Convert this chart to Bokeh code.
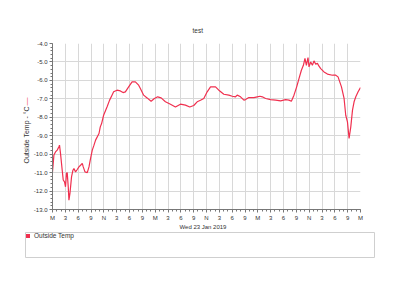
from bokeh.plotting import figure
from bokeh.models import (Range1d, FixedTicker, Legend, LegendItem, Title,
                          NumeralTickFormatter)
from bokeh.layouts import column
from bokeh.embed import file_html
from bokeh.resources import INLINE

# ---- data (hours since Tue 22 Jan 2019 00:00) ----
hours = [0, 0.33, 0.70, 1.10, 1.50, 1.64, 1.87, 2.27, 2.51, 2.81,
         3.04, 3.28, 3.44, 3.68, 3.84, 4.08, 4.45, 4.78, 5.01, 5.39,
         5.79, 6.18, 6.56, 6.96, 7.19, 7.59, 8.13, 8.53, 8.90, 9.30,
         9.70, 10.07, 10.87, 11.17, 11.48, 11.95, 12.74, 13.35, 13.91, 14.29,
         15.08, 15.86, 16.49, 17.03, 17.80, 18.60, 19.37, 20.14, 20.54, 21.31,
         22.11, 23.05, 23.82, 24.59, 25.39, 26.40, 27.57, 28.74, 29.91, 31.08,
         32.09, 33.02, 33.82, 34.59, 35.37, 36.16, 36.94, 38.11, 38.88, 40.05,
         41.22, 42.02, 42.79, 43.19, 43.96, 44.74, 45.13, 45.91, 47.08, 47.87,
         48.48, 49.05, 49.82, 50.99, 52.16, 53.33, 54.50, 55.28, 55.84, 56.45,
         57.08, 57.62, 58.18, 58.65, 59.02, 59.35, 59.73, 59.96, 60.36, 60.76,
         61.13, 61.53, 61.93, 62.30, 62.70, 63.47, 64.27, 65.44, 66.21, 66.75,
         67.55, 68.16, 68.55, 68.95, 69.33, 69.73, 70.13, 70.50, 70.90, 71.44, 72.0]

outside_temp = [-10.96, -10.05, -9.88, -9.78, -9.60, -9.51, -9.96, -10.87, -11.40, -11.50,
                -11.77, -11.03, -11.00, -11.77, -12.50, -12.13, -11.23, -10.87, -10.78, -10.96,
                -10.83, -10.69, -10.60, -10.50, -10.69, -10.96, -11.00, -10.69, -10.23, -9.78,
                -9.51, -9.24, -8.88, -8.52, -8.34, -7.89, -7.44, -7.07, -6.80, -6.62,
                -6.53, -6.57, -6.66, -6.62, -6.35, -6.08, -6.08, -6.26, -6.44, -6.80,
                -6.95, -7.13, -6.98, -6.89, -6.95, -7.16, -7.29, -7.44, -7.29, -7.34,
                -7.44, -7.36, -7.16, -7.08, -6.98, -6.62, -6.35, -6.35, -6.53, -6.75,
                -6.80, -6.86, -6.89, -6.80, -6.89, -7.07, -7.04, -6.93, -6.93, -6.89,
                -6.86, -6.89, -6.98, -7.04, -7.07, -7.11, -7.04, -7.07, -7.13, -6.80,
                -6.35, -5.90, -5.45, -5.18, -4.81, -5.18, -4.76, -5.27, -5.00, -5.18,
                -4.94, -5.12, -5.08, -5.23, -5.36, -5.54, -5.66, -5.72, -5.72, -5.81,
                -6.35, -6.98, -7.89, -8.25, -9.15, -8.52, -7.61, -7.16, -6.89, -6.62, -6.39]

x_tick_values = list(range(0, 73, 3))
x_tick_labels = ["M", "3", "6", "9", "N", "3", "6", "9",
                 "M", "3", "6", "9", "N", "3", "6", "9",
                 "M", "3", "6", "9", "N", "3", "6", "9", "M"]
y_tick_values = [-13, -12, -11, -10, -9, -8, -7, -6, -5, -4]

series_name = "Outside Temp"
y_title = "Outside Temp - °C"
x_title = "Wed 23 Jan 2019"
chart_title = "test"

assert len(hours) == len(outside_temp)

RED = "#f0304f"
FONT = "Liberation Sans"
GRID = "#d8d8d8"
AXIS = "#777777"
TXT = "#333333"

p = figure(width=400, height=231, output_backend="svg", toolbar_location=None,
           x_range=Range1d(0, 72), y_range=Range1d(-13, -4),
           min_border_left=52, min_border_right=40, min_border_top=43,
           min_border_bottom=22, outline_line_color=None)
p.frame_align = False

p.title.text = chart_title
p.title.align = "left"
p.title.offset = 140
p.title.standoff = 19
p.title.text_font = FONT
p.title.text_font_size = "6.5px"
p.title.text_font_style = "normal"
p.title.text_color = TXT

p.line(hours, outside_temp, line_color=RED, line_width=1.2)

p.xaxis.ticker = FixedTicker(ticks=x_tick_values, minor_ticks=list(range(0, 73)))
p.xaxis.major_label_overrides = {v: l for v, l in zip(x_tick_values, x_tick_labels)}
p.yaxis.ticker = FixedTicker(ticks=y_tick_values,
                             minor_ticks=[y / 5 for y in range(-65, -19)])
p.yaxis.formatter = NumeralTickFormatter(format="0.0")

for ax in (p.xaxis[0], p.yaxis[0]):
    ax.axis_line_color = AXIS
    ax.major_tick_line_color = AXIS
    ax.minor_tick_line_color = AXIS
    ax.major_tick_out = 3
    ax.major_tick_in = 0
    ax.minor_tick_out = 2
    ax.minor_tick_in = 0
    ax.major_label_text_font = FONT
    ax.major_label_text_font_size = "6px"
    ax.major_label_text_color = TXT
    ax.major_label_standoff = 2

p.xgrid.ticker = FixedTicker(ticks=x_tick_values)
p.ygrid.ticker = FixedTicker(ticks=y_tick_values)
p.xgrid.grid_line_color = GRID
p.ygrid.grid_line_color = GRID

xtitle = Title(text=x_title, align="left", offset=127, standoff=-4,
               text_font=FONT, text_font_size="6px", text_font_style="normal",
               text_color=TXT)
p.add_layout(xtitle, "below")

ytitle = Title(text=y_title, align="left", offset=46, standoff=2,
               text_font=FONT, text_font_size="7px", text_font_style="normal",
               text_color=TXT)
p.add_layout(ytitle, "left")
ydash = Title(text="—", align="left", offset=104, standoff=-23,
              text_font=FONT, text_font_size="8px", text_font_style="normal",
              text_color=RED)
p.add_layout(ydash, "left")

# legend box: a second plot whose frame outline is the box
p2 = figure(width=400, height=52, output_backend="svg", toolbar_location=None,
            x_range=Range1d(0, 1), y_range=Range1d(0, 1),
            min_border_left=25, min_border_right=26, min_border_top=1,
            min_border_bottom=26, x_axis_location=None, y_axis_location=None,
            outline_line_color="#cfcfcf")
p2.frame_align = False
p2.xgrid.visible = False
p2.ygrid.visible = False
# zero-size blocks (out of this box's range): only provide the legend swatch
swatch = p2.quad(left=hours, right=hours, top=outside_temp, bottom=outside_temp,
                 fill_color=RED, line_alpha=0)
leg = Legend(items=[LegendItem(label=series_name, renderers=[swatch])],
             location="top_left", margin=0, padding=3, border_line_color=None,
             background_fill_alpha=0, glyph_width=5, glyph_height=5,
             label_height=6, label_width=10, label_standoff=4,
             label_text_font=FONT, label_text_font_size="6.5px",
             label_text_color=TXT)
p2.add_layout(leg)

layout = column(p, p2, spacing=0)
open("out.html", "w").write(file_html(layout, INLINE))
